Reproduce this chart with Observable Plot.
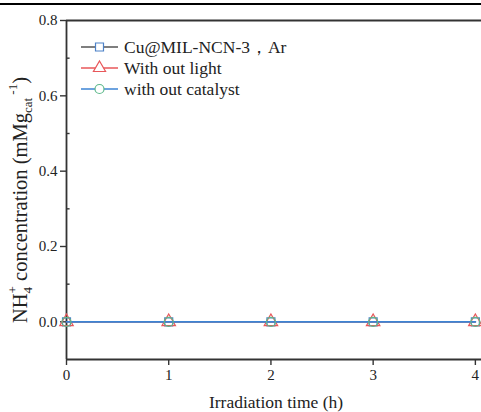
<!DOCTYPE html>
<html>
<head>
<meta charset="utf-8">
<script src="https://cdn.jsdelivr.net/npm/d3@7"></script>
<script src="https://cdn.jsdelivr.net/npm/@observablehq/plot@0.6"></script>
<style>
  html, body { margin: 0; padding: 0; background: #fff; }
  #wrap { position: relative; width: 481px; height: 412px; overflow: hidden; }
  #topbar { position: absolute; left: 0; top: 3px; width: 481px; height: 2px; background: #000; z-index: 2; }
  svg, svg text { font-family: "Liberation Serif", serif !important; }
</style>
</head>
<body>
<div id="wrap"><div id="topbar"></div><div id="chart"></div></div>
<script>
const times = [0, 1, 2, 3, 4];
const cuAr = [0, 0, 0, 0, 0];
const noLight = [0, 0, 0, 0, 0];
const noCatalyst = [0, 0, 0, 0, 0];
const seriesNames = ["Cu@MIL-NCN-3，Ar", "With out light", "with out catalyst"];
const yTicks = [0.0, 0.2, 0.4, 0.6, 0.8];
const yMinor = [0.1, 0.3, 0.5, 0.7];
const xTicks = [0, 1, 2, 3, 4];

const lineColors = ["#555555", "#e8575a", "#3d84d4"];
const lineWidths = [1.4, 1.4, 1.9];
const markColors = ["#4d82c8", "#e8575a", "#5db98b"];
const symbols = ["square", "triangle", "circle"];
const values = [cuAr, noLight, noCatalyst];

const rows = values.map((vals, s) => times.map((t, i) => ({t, v: vals[i], s})));

const marks = [];
rows.forEach((r, s) => {
  marks.push(Plot.line(r, {x: "t", y: "v", stroke: lineColors[s], strokeWidth: lineWidths[s]}));
  marks.push(Plot.dot(r, {x: "t", y: "v", symbol: () => symbols[s], stroke: markColors[s], fill: "none", r: s === 1 ? 5 : 4.5, strokeWidth: 1.2}));
});

const axisColor = "#333";
const plot = Plot.plot({
  width: 481,
  height: 412,
  marginLeft: 66,
  marginRight: 0,
  marginTop: 20,
  marginBottom: 53,
  style: {fontFamily: "Liberation Serif", background: "#fff"},
  x: {domain: [0, 4.06], axis: null},
  y: {domain: [-0.1, 0.8], axis: null},
  symbol: {type: "identity"},
  marks: [
    Plot.ruleX([0], {stroke: axisColor, strokeWidth: 1.8}),
    Plot.ruleY([0.8], {stroke: axisColor, strokeWidth: 1.8}),
    Plot.ruleY([-0.1], {stroke: axisColor, strokeWidth: 1.8}),
    Plot.ruleY(yMinor, {x1: 0, x2: 0.035, stroke: axisColor, strokeWidth: 1.4}),
    Plot.axisY({ticks: yTicks, tickFormat: d3.format(".1f"), tickSize: 6, tickPadding: 3, fontSize: 15, stroke: axisColor, color: "#222", strokeWidth: 1.4, label: null}),
    Plot.axisX({ticks: xTicks, tickFormat: d3.format("d"), tickSize: 6, tickPadding: 4, fontSize: 15, anchor: "bottom", stroke: axisColor, color: "#222", strokeWidth: 1.4, label: null}),
    ...marks
  ]
});

const svg = d3.select(plot).style("font-family", "Liberation Serif");
// x axis title
svg.append("text")
  .attr("x", 276).attr("y", 408)
  .attr("text-anchor", "middle")
  .attr("font-size", 17.5).attr("fill", "#222")
  .text("Irradiation time (h)");

// y axis title
const yl = svg.append("text")
  .attr("transform", "translate(27,200) rotate(-90)")
  .attr("text-anchor", "middle")
  .attr("font-size", 20.5).attr("fill", "#222");
yl.append("tspan").text("NH");
yl.append("tspan").attr("font-size", 13).attr("dy", 5).text("4");
yl.append("tspan").attr("font-size", 13).attr("dx", -6.5).attr("dy", -15).text("+");
yl.append("tspan").attr("dy", 10).text(" concentration (mMg");
yl.append("tspan").attr("font-size", 13).attr("dy", 5).text("cat");
yl.append("tspan").attr("font-size", 13).attr("dy", -15).text(" -1");
yl.append("tspan").attr("dy", 10).text(")");

// legend
const lg = svg.append("g").attr("text-anchor", "start");
seriesNames.forEach((name, s) => {
  const y = 47 + s * 21;
  lg.append("line").attr("x1", 81).attr("x2", 118).attr("y1", y).attr("y2", y)
    .attr("stroke", lineColors[s]).attr("stroke-width", 1.4);
  const sym = d3.symbol(s === 0 ? d3.symbolSquare : s === 1 ? d3.symbolTriangle : d3.symbolCircle, 4.5 * 4.5 * Math.PI);
  lg.append("path").attr("d", sym()).attr("transform", `translate(99.5,${y})`)
    .attr("fill", "#fff").attr("stroke", markColors[s]).attr("stroke-width", 1.2);
  lg.append("text").attr("x", 124).attr("y", y).attr("dy", "0.35em")
    .attr("text-anchor", "start")
    .attr("font-size", 17.5).attr("fill", "#222").text(name);
});

document.getElementById("chart").appendChild(plot);
</script>
</body>
</html>
